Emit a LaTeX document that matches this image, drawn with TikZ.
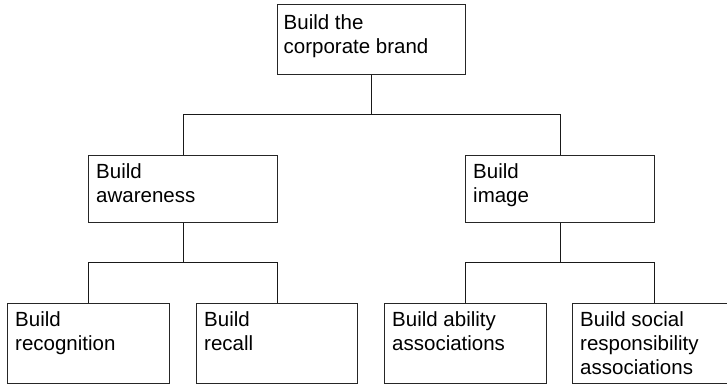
\documentclass[tikz,border=0pt]{standalone}
\usepackage{fontspec}
\setmainfont{Liberation Sans}
\begin{document}
\begin{tikzpicture}[x=1pt,y=-1pt,
  box/.style={draw=black!85, line width=0.9pt, inner sep=0pt, anchor=north west},
  lbl/.style={anchor=north west, inner sep=0pt, align=left,
              font=\fontsize{20.5}{24}\selectfont},
  link/.style={draw=black!90, line width=0.9pt}]
\useasboundingbox (0,0) rectangle (727,383);
\begin{scope}
\clip (0,0) rectangle (727,383);
% boxes of the hierarchy
\node[box, minimum width=188pt, minimum height=70pt] (brand) at (277,4) {};
\node[box, minimum width=189pt, minimum height=67pt] (aware) at (88,155) {};
\node[box, minimum width=189pt, minimum height=67pt] (image) at (465,155) {};
\node[box, minimum width=162pt, minimum height=80pt] (recog) at (7,303) {};
\node[box, minimum width=161pt, minimum height=80pt] (recall) at (196,303) {};
\node[box, minimum width=162pt, minimum height=80pt] (ability) at (384,303) {};
\node[box, minimum width=164pt, minimum height=80pt] (social) at (572,303) {};

% box texts, set at the top left of each box
\node[lbl] (brandtxt) at ([shift={(6.5,10)}]brand.north west) {Build the\\corporate brand};
\node[lbl] (awaretxt) at ([shift={(8,8.5)}]aware.north west) {Build\\awareness};
\node[lbl] (imagetxt) at ([shift={(8,8.5)}]image.north west) {Build\\image};
\node[lbl] (recogtxt) at ([shift={(8,8)}]recog.north west) {Build\\recognition};
\node[lbl] (recalltxt) at ([shift={(8,8)}]recall.north west) {Build\\recall};
\node[lbl] (abilitytxt) at ([shift={(8,8)}]ability.north west) {Build ability\\associations};
\node[lbl] (socialtxt) at ([shift={(8,8)}]social.north west) {Build social\\responsibility\\associations};

% tree connectors
\draw[link] (brand.south) -- ++(0,40) -| (aware.north);
\draw[link] (brand.south) -- ++(0,40) -| (image.north);
\draw[link] (aware.south) -- ++(0,40) -| (recog.north);
\draw[link] (aware.south) -- ++(0,40) -| (recall.north);
\draw[link] (image.south) -- ++(0,40) -| (ability.north);
\draw[link] (image.south) -- ++(0,40) -| (social.north);
\end{scope}
\end{tikzpicture}
\end{document}
